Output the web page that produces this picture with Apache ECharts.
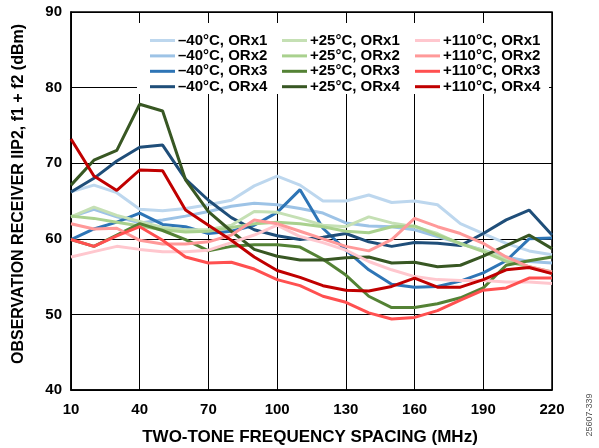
<!DOCTYPE html>
<html><head><meta charset="utf-8">
<script src="https://cdn.jsdelivr.net/npm/echarts@6/dist/echarts.min.js"></script>
<style>html,body{margin:0;padding:0;background:#fff}#c{width:599px;height:448px}</style>
</head><body><div id="c"></div>
<script>
const categories = ['10','20','30','40','50','60','70','80','90','100','110','120','130','140','150','160','170','180','190','200','210','220'];
const yTicks = {min: 40, max: 90, interval: 10};
const xTitle = 'TWO-TONE FREQUENCY SPACING (MHz)';
const yTitle = 'OBSERVATION RECEIVER IIP2, f1 + f2 (dBm)';
const figId = '25607-339';

const m40_orx1 = [66.2,67.1,66.1,63.9,63.7,64.0,64.5,65.1,67.0,68.3,67.1,65.0,65.0,65.8,64.8,65.0,64.5,62.0,60.7,59.4,58.4,57.9];
const m40_orx2 = [62.9,63.9,62.9,62.1,62.5,63.0,63.6,64.3,64.7,64.5,64.0,63.4,62.1,61.7,61.6,61.2,60.3,59.4,58.5,57.6,57.0,56.8];
const m40_orx3 = [59.9,61.3,62.2,63.4,61.9,61.6,60.7,61.0,61.8,63.5,66.5,61.4,58.5,55.9,54.0,53.6,53.7,54.4,55.5,57.1,60.0,60.1];
const m40_orx4 = [66.2,68.0,70.3,72.1,72.4,67.9,65.1,62.8,61.2,60.4,59.9,60.2,60.7,59.6,59.0,59.5,59.4,59.1,60.7,62.5,63.8,60.5];
const p25_orx1 = [62.9,64.2,63.1,62.3,61.5,61.2,61.2,61.8,63.6,63.5,62.7,61.8,61.6,62.9,62.1,61.6,60.7,59.3,58.5,57.3,56.3,55.4];
const p25_orx2 = [63.0,62.7,62.2,61.7,61.2,60.9,61.0,61.5,62.0,62.2,62.0,61.6,61.0,60.8,61.6,61.7,60.5,59.4,58.3,57.0,56.3,55.6];
const p25_orx3 = [59.9,59.0,60.5,62.0,61.1,59.9,58.4,59.0,59.2,59.2,58.9,57.3,55.2,52.4,50.9,50.9,51.4,52.2,53.5,56.5,57.1,57.6];
const p25_orx4 = [67.1,70.4,71.7,77.8,76.9,67.8,63.6,61.0,58.6,57.7,57.2,57.2,57.5,57.6,56.8,56.9,56.3,56.5,57.7,59.1,60.5,58.7];
const p110_orx1 = [57.6,58.3,59.0,58.6,58.3,58.3,58.5,59.5,60.5,61.8,60.3,59.5,58.5,57.0,55.9,55.0,54.6,54.5,54.5,54.3,54.3,54.1];
const p110_orx2 = [62.0,61.3,61.4,59.8,59.3,59.3,59.6,60.5,62.5,62.0,61.0,60.0,59.0,58.4,59.9,62.7,61.6,60.7,59.4,57.6,56.3,55.6];
const p110_orx3 = [59.9,59.0,60.4,61.6,59.8,57.6,56.8,56.9,56.0,54.6,53.8,52.4,51.6,50.2,49.4,49.6,50.5,51.9,53.2,53.5,54.8,54.8];
const p110_orx4 = [73.2,68.3,66.4,69.1,69.0,63.8,61.8,59.8,57.6,55.8,54.9,53.8,53.2,53.1,53.7,54.8,53.6,53.6,54.6,55.9,56.2,55.4];

const names = ['–40°C, ORx1','–40°C, ORx2','–40°C, ORx3','–40°C, ORx4',
               '+25°C, ORx1','+25°C, ORx2','+25°C, ORx3','+25°C, ORx4',
               '+110°C, ORx1','+110°C, ORx2','+110°C, ORx3','+110°C, ORx4'];
const values = [m40_orx1,m40_orx2,m40_orx3,m40_orx4,p25_orx1,p25_orx2,p25_orx3,p25_orx4,p110_orx1,p110_orx2,p110_orx3,p110_orx4];
const colors = ['#bdd7ee','#9dc3e6','#2e75b6','#1f4e79','#c5e0b4','#a9d18e','#548235','#385723','#ffc7ce','#ff9999','#ff5050','#c00000'];

const FONT = '"Liberation Sans", Arial, sans-serif';
const chart = echarts.init(document.getElementById('c'), null, {renderer: 'canvas'});

function legendAt(left, items) {
  return {
    orient: 'vertical', left: left, top: 28, z: 10,
    data: items, icon: 'rect', itemWidth: 25, itemHeight: 3, itemGap: 0.4,
    selectedMode: false,
    textStyle: {fontFamily: FONT, fontWeight: 'bold', fontSize: 15, color: '#000', lineHeight: 15, padding: [0,0,0,-2]}
  };
}

chart.setOption({
  animation: false,
  backgroundColor: '#fff',
  grid: {left: 71, right: 47, top: 12, bottom: 58, show: true, borderColor: '#000', borderWidth: 1.5},
  xAxis: {
    type: 'category', data: categories, boundaryGap: false,
    axisLine: {lineStyle: {color: '#000', width: 1.5}},
    axisTick: {show: false},
    axisLabel: {interval: 2, margin: 12, fontFamily: FONT, fontWeight: 'bold', fontSize: 15, color: '#000'},
    splitLine: {show: true, interval: 2, lineStyle: {color: '#000', width: 1}}
  },
  yAxis: {
    type: 'value', min: yTicks.min, max: yTicks.max, interval: yTicks.interval,
    axisLine: {show: true, lineStyle: {color: '#000', width: 1.5}},
    axisTick: {show: false},
    axisLabel: {margin: 9, fontFamily: FONT, fontWeight: 'bold', fontSize: 15, color: '#000'},
    splitLine: {show: true, lineStyle: {color: '#000', width: 1}}
  },
  legend: [legendAt(145, names.slice(0,4)), legendAt(277, names.slice(4,8)), legendAt(410, names.slice(8,12))],
  graphic: [
    {type: 'rect', z: 3, shape: {x: 137, y: 23, width: 412, height: 71}, style: {fill: '#fff'}},
    {type: 'text', x: 310, y: 437, z: 5, style: {text: xTitle, font: 'bold 17px ' + FONT, fill: '#000', textAlign: 'center', textVerticalAlign: 'middle', align: 'center', verticalAlign: 'middle'}},
    {type: 'text', x: 19, y: 194, rotation: Math.PI/2, z: 5, style: {text: yTitle, font: 'bold 16px ' + FONT, fill: '#000', textAlign: 'center', textVerticalAlign: 'middle', align: 'center', verticalAlign: 'middle'}},
    {type: 'text', x: 590, y: 415, rotation: Math.PI/2, z: 5, style: {text: figId, font: '9px ' + FONT, fill: '#555', textAlign: 'center', textVerticalAlign: 'middle', align: 'center', verticalAlign: 'middle'}}
  ],
  series: names.map((n, i) => ({
    name: n, type: 'line', data: values[i], showSymbol: false, symbol: 'none',
    lineStyle: {color: colors[i], width: 3}, itemStyle: {color: colors[i]}, z: 2
  }))
});
</script></body></html>
